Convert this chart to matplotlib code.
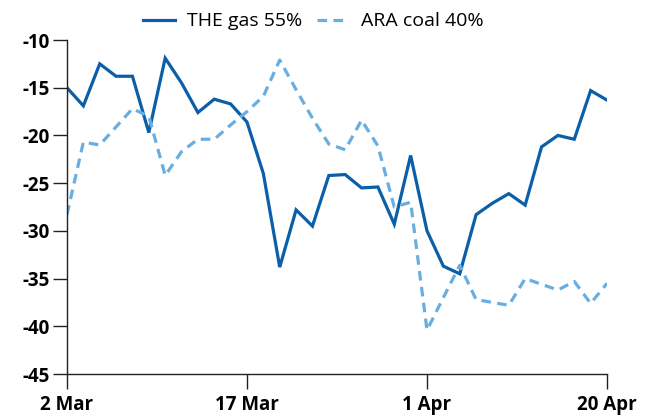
import matplotlib
matplotlib.use("Agg")
import matplotlib.pyplot as plt
import numpy as np

# Trading days (Good Friday and Easter Monday excluded)
dates = ["2 Mar", "3 Mar", "4 Mar", "5 Mar", "6 Mar", "9 Mar", "10 Mar", "11 Mar",
         "12 Mar", "13 Mar", "16 Mar", "17 Mar", "18 Mar", "19 Mar", "20 Mar",
         "23 Mar", "24 Mar", "25 Mar", "26 Mar", "27 Mar", "30 Mar", "31 Mar",
         "1 Apr", "2 Apr", "3 Apr", "6 Apr", "7 Apr", "8 Apr", "9 Apr",
         "14 Apr", "15 Apr", "16 Apr", "17 Apr", "20 Apr"]

the_gas_55 = [-15.0, -16.9, -12.5, -13.8, -13.8, -19.7, -11.9, -14.5,
              -17.6, -16.2, -16.7, -18.6, -24.0, -33.8, -27.8, -29.5,
              -24.2, -24.1, -25.5, -25.4, -29.3, -22.1, -30.0, -33.7,
              -34.5, -28.3, -27.1, -26.1, -27.3, -21.2, -20.0, -20.4,
              -15.3, -16.3]

ara_coal_40 = [-28.3, -20.7, -21.0, -19.1, -17.2, -18.0, -24.2, -21.7,
               -20.4, -20.4, -18.9, -17.5, -15.9, -12.1, -15.2, -18.2,
               -20.9, -21.5, -18.4, -21.1, -27.5, -27.0, -40.4, -37.0,
               -33.6, -37.2, -37.5, -37.8, -35.0, -35.6, -36.2, -35.3,
               -37.6, -35.5]

tick_dates = ["2 Mar", "17 Mar", "1 Apr", "20 Apr"]
y_ticks = [-45, -40, -35, -30, -25, -20, -15, -10]

plt.rcParams["font.family"] = ["Open Sans", "DejaVu Sans"]

fig = plt.figure(figsize=(6.57, 4.18), dpi=100)
ax = fig.add_axes([67 / 657, 1 - 374 / 418, 540 / 657, 334 / 418])

x = np.arange(len(dates))
ax.plot(x, the_gas_55, color="#0a5fa8", lw=2.3, label="THE gas 55%",
        solid_joinstyle="miter")
ax.plot(x, ara_coal_40, color="#6aaee0", lw=2.3, ls=(0, (3.0, 2.0)),
        label="ARA coal 40%")

ax.set_xlim(0, len(dates) - 1)
ax.set_ylim(-45, -10)
ax.set_yticks(y_ticks)
ax.set_yticklabels([str(v) for v in y_ticks], fontsize=13.5, fontweight="bold")
ax.set_xticks([dates.index(d) for d in tick_dates])
ax.set_xticklabels(tick_dates, fontsize=13.5, fontweight="bold")

for s in ("top", "right"):
    ax.spines[s].set_visible(False)
for s in ("left", "bottom"):
    ax.spines[s].set_color("#222222")
    ax.spines[s].set_linewidth(1.0)
ax.tick_params(axis="y", direction="out", length=10, width=1.0,
               color="#222222", pad=2.5)
ax.tick_params(axis="x", direction="out", length=11, width=1.0,
               color="#222222", pad=4)

fig.legend(loc="upper center", bbox_to_anchor=(0.477, 1.012), ncol=2,
           frameon=False, fontsize=14, handlelength=1.6, columnspacing=0.75,
           handletextpad=0.65)

fig.savefig("out.png", dpi=100)
